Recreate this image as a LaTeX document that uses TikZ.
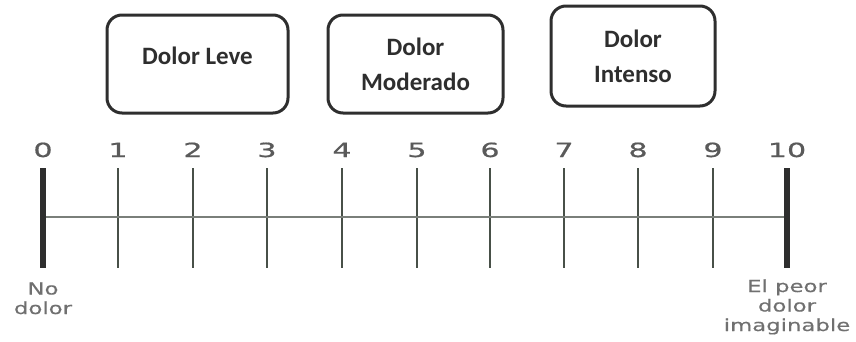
\documentclass[tikz,border=0pt]{standalone}
\usepackage{fontspec}
\setmainfont{DejaVu Sans}
\newfontfamily\boxfont{Carlito}
\newfontfamily\numfont[FakeStretch=1.55,FakeBold=0.8]{DejaVu Sans}
\newfontfamily\labfont[FakeStretch=1.38,FakeBold=0.5]{DejaVu Sans}
\definecolor{tickc}{HTML}{485048}
\definecolor{numc}{HTML}{5A5A5A}
\definecolor{linec}{HTML}{7A7F7A}
\definecolor{boxc}{HTML}{2E2E2E}
\definecolor{labc}{HTML}{707070}
\begin{document}
\begin{tikzpicture}[x=1pt,y=-1pt,
  catbox/.style={draw=boxc,line width=3pt,rounded corners=15pt,inner sep=0pt},
  cattext/.style={align=center,font=\boxfont\bfseries\fontsize{25}{35}\selectfont,text=boxc,inner sep=0pt},
  numlab/.style={font=\numfont\fontsize{19.5}{19.5}\selectfont,text=numc,anchor=base},
  endlab/.style={font=\labfont\fontsize{16.5}{19.5}\selectfont,text=labc,align=center,anchor=base},
  tickline/.style={draw=tickc,line width=2.9pt},
  endbar/.style={draw=boxc,line width=6.5pt}]
\useasboundingbox (0,0) rectangle (856,341);
% boxes
\node[catbox,minimum width=181pt,minimum height=98pt] (leve) at (197.5,64) {};
\node[catbox,minimum width=175pt,minimum height=98pt] (mod) at (415.5,64) {};
\node[catbox,minimum width=164pt,minimum height=100pt] (int) at (633,56) {};
\node[cattext] (levet) at ([yshift=8pt]leve.center) {Dolor Leve};
\node[cattext] (modt) at (mod.center) {Dolor\\Moderado};
\node[cattext] (intt) at (int.center) {Dolor\\Intenso};
% ticks and numbers
\foreach \i/\x in {0/43,1/118,2/193,3/267,4/342,5/417,6/490,7/564,8/638,9/713,10/787}{
  \coordinate (t\i) at (\x,168);
  \coordinate (b\i) at (\x,268);
  \node[numlab] (n\i) at (\x,157) {\i};
}
\foreach \i in {1,...,9}{ \draw[tickline] (t\i) -- (b\i); }
\draw[linec,line width=1.3pt] (b0 |- 0,217) coordinate (m0) -- (b10 |- 0,217) coordinate (m10);
\draw[endbar] (t0) -- (b0);
\draw[endbar] (t10) -- (b10);
\node[endlab] (nodolor) at (43,314) {No\\dolor};
\node[endlab] (peor) at (787,331) {El peor\\dolor\\imaginable};
\end{tikzpicture}
\end{document}
